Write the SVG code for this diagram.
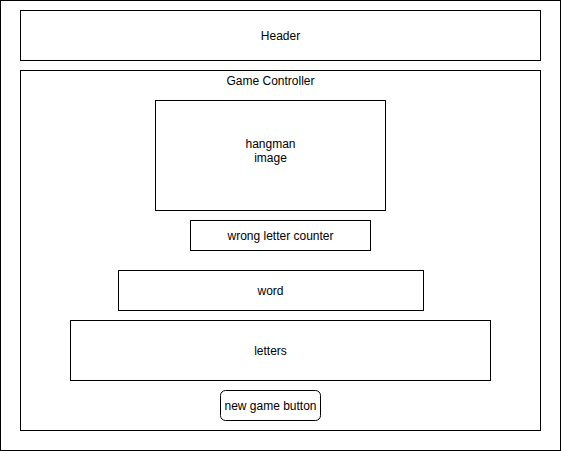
<svg xmlns="http://www.w3.org/2000/svg" width="561" height="451" viewBox="0 0 561 451">
<style>
.b{fill:#fff;stroke:#000;stroke-width:1}
.t{font-family:"Liberation Sans",Arial,sans-serif;font-size:12px;fill:#000;text-anchor:middle}
</style>
<rect x="0" y="0" width="561" height="451" fill="#fff"/>
<g id="frame"><rect class="b" x="0.5" y="0.5" width="560" height="450"/></g>
<g id="header"><rect class="b" x="20.5" y="10.5" width="520" height="50"/><text class="t" x="280.5" y="40">Header</text></g>
<g id="game-controller"><rect class="b" x="20.5" y="70.5" width="520" height="360"/><text class="t" x="270.5" y="85">Game Controller</text></g>
<g id="hangman-image"><rect class="b" x="155.5" y="100.5" width="230" height="110"/><text class="t" x="270.5" y="148">hangman</text><text class="t" x="270.5" y="162">image</text></g>
<g id="wrong-letter-counter"><rect class="b" x="190.5" y="220.5" width="180" height="30"/><text class="t" x="280.5" y="240">wrong letter counter</text></g>
<g id="word"><rect class="b" x="118.5" y="270.5" width="305" height="40"/><text class="t" x="270.5" y="295">word</text></g>
<g id="letters"><rect class="b" x="70.5" y="320.5" width="420" height="60"/><text class="t" x="270.5" y="355">letters</text></g>
<g id="new-game-button"><rect class="b" x="220.5" y="390.5" width="100" height="30" rx="5" ry="5"/><text class="t" x="270.5" y="410">new game button</text></g>
<g id="connectors"/>
</svg>
